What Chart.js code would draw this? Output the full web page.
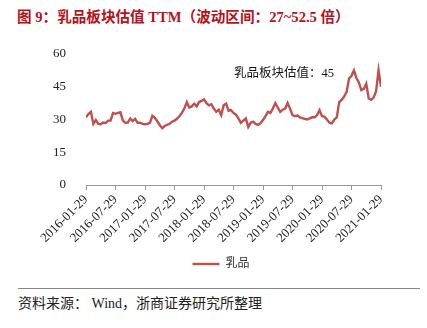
<!DOCTYPE html>
<html>
<head>
<meta charset="utf-8">
<script src="https://cdn.jsdelivr.net/npm/chart.js@4.4.1/dist/chart.umd.min.js"></script>
<style>
  body { margin: 0; background: #fff; }
  .page { position: relative; width: 427px; height: 328px; overflow: hidden; }
  .title { position: absolute; left: 17px; top: 5px; line-height: 18px; white-space: nowrap;
    font: bold 14.6px "Liberation Serif", "Noto Sans CJK SC", serif; color: #b5121b; }
  .chart-box { position: absolute; left: 0; top: 30px; width: 427px; height: 250px; }
  .rule { position: absolute; left: 18px; top: 288px; width: 402px; border-top: 1px solid #888; }
  .source { position: absolute; left: 18px; top: 292px; line-height: 18px; white-space: nowrap;
    font: 14px "Liberation Serif", "Noto Sans CJK SC", serif; color: #222; }
</style>
</head>
<body>
<div class="page">
  <div class="title">图 9：乳品板块估值 TTM（波动区间：27~52.5 倍）</div>
  <div class="chart-box"><canvas id="DairyPE"></canvas></div>
  <div class="rule"></div>
  <div class="source">资料来源： Wind，浙商证券研究所整理</div>
</div>
<script>
// half-month steps, 2016-01-29 .. 2021-01-29
var tickLabels = ['2016-01-29', '2016-07-29', '2017-01-29', '2017-07-29', '2018-01-29', '2018-07-29',
                  '2019-01-29', '2019-07-29', '2020-01-29', '2020-07-29', '2021-01-29'];
var seriesName = '乳品';
var peValues = [
  31, 32.5, 33.5, 28, 29.8, 28, 27.8, 28.6, 28.4, 29.5,
  29.5, 33, 32.6, 33, 33.3, 29.5, 28.5, 28.6, 30.5, 29.3,
  30.3, 28.5, 28.5, 28, 27.8, 28, 28.5, 31.7, 30.8, 29.2,
  27.5, 26, 27, 27.6, 28, 29, 29.5, 30.3, 31.5, 33,
  35, 38, 35.5, 36, 37.2, 36, 38, 38.5, 39.2, 37.5,
  36.5, 37, 35, 33.5, 34.5, 32, 36.5, 37.3, 34, 34.3,
  33, 32.2, 30.5, 28.5, 29.5, 30.5, 26.6, 28.5, 29, 28,
  27.5, 28.3, 29.8, 31.5, 33.5, 33, 35, 37.5, 35.5, 33.5,
  34.5, 35, 37.6, 35, 32, 31.5, 31.8, 31, 30.6, 30.3,
  30, 30.5, 31, 31, 32, 34.3, 31.5, 31.3, 30, 28.5,
  28.2, 30, 31, 38, 39, 40.5, 42.5, 48.8, 50, 52.5,
  49, 47, 43.5, 44, 46.4, 39.6, 39, 40, 43, 52.5,
  45
];
var yTicks = [0, 15, 30, 45, 60];

var STEP = 12; // points per tick label
var points = peValues.map(function (v, i) { return { x: i, y: v }; });

Chart.defaults.font.family = '"Liberation Serif", "Noto Sans CJK SC", serif';
Chart.defaults.color = '#222';

/*----latest value note----*/
var valueNote = {
  id: 'valueNote',
  afterDatasetsDraw: function (chart) {
    var ctx = chart.ctx;
    var last = peValues[peValues.length - 1];
    ctx.save();
    ctx.font = '12.5px "Liberation Serif", "Noto Sans CJK SC", serif';
    ctx.fillStyle = '#111';
    ctx.textAlign = 'left';
    ctx.textBaseline = 'middle';
    ctx.fillText('乳品板块估值：' + last, chart.scales.x.getPixelForValue(60.2), chart.scales.y.getPixelForValue(51));
    ctx.restore();
  }
};

var ctx = document.getElementById('DairyPE');
var myChart = new Chart(ctx, {
  type: 'line',
  data: {
    datasets: [{
      label: seriesName,
      data: points,
      borderColor: '#c0504d',
      backgroundColor: '#c0504d',
      borderWidth: 2.4,
      pointRadius: 0,
      tension: 0,
      fill: false
    }]
  },
  options: {
    responsive: true,
    maintainAspectRatio: false,
    animation: false,
    layout: { padding: { left: 15, right: 0, top: 24, bottom: 0 } },
    scales: {
      x: {
        type: 'linear',
        min: 0,
        max: (tickLabels.length - 1) * STEP,
        afterFit: function (s) { s.height = 62; },
        grid: { display: true, drawOnChartArea: false, drawTicks: true, tickLength: 5, color: '#999' },
        border: { display: true, color: '#999' },
        ticks: {
          stepSize: STEP,
          autoSkip: false,
          maxRotation: 45,
          minRotation: 45,
          padding: 2,
          font: { size: 13 },
          callback: function (v) { return tickLabels[v / STEP]; }
        }
      },
      y: {
        min: yTicks[0],
        max: yTicks[yTicks.length - 1],
        afterFit: function (s) { s.width = 71; },
        grid: { display: false },
        border: { display: false },
        ticks: { stepSize: 15, padding: 12, font: { size: 13 } }
      },
      yRight: {
        position: 'right',
        display: true,
        afterFit: function (s) { s.width = 46; },
        grid: { display: false },
        border: { display: false },
        ticks: { display: false }
      }
    },
    plugins: {
      legend: {
        position: 'bottom',
        labels: {
          usePointStyle: true,
          pointStyle: 'line',
          pointStyleWidth: 27,
          padding: 11,
          color: '#333',
          font: { size: 12 }
        }
      },
      tooltip: { enabled: false }
    }
  },
  plugins: [valueNote]
});
</script>
</body>
</html>
